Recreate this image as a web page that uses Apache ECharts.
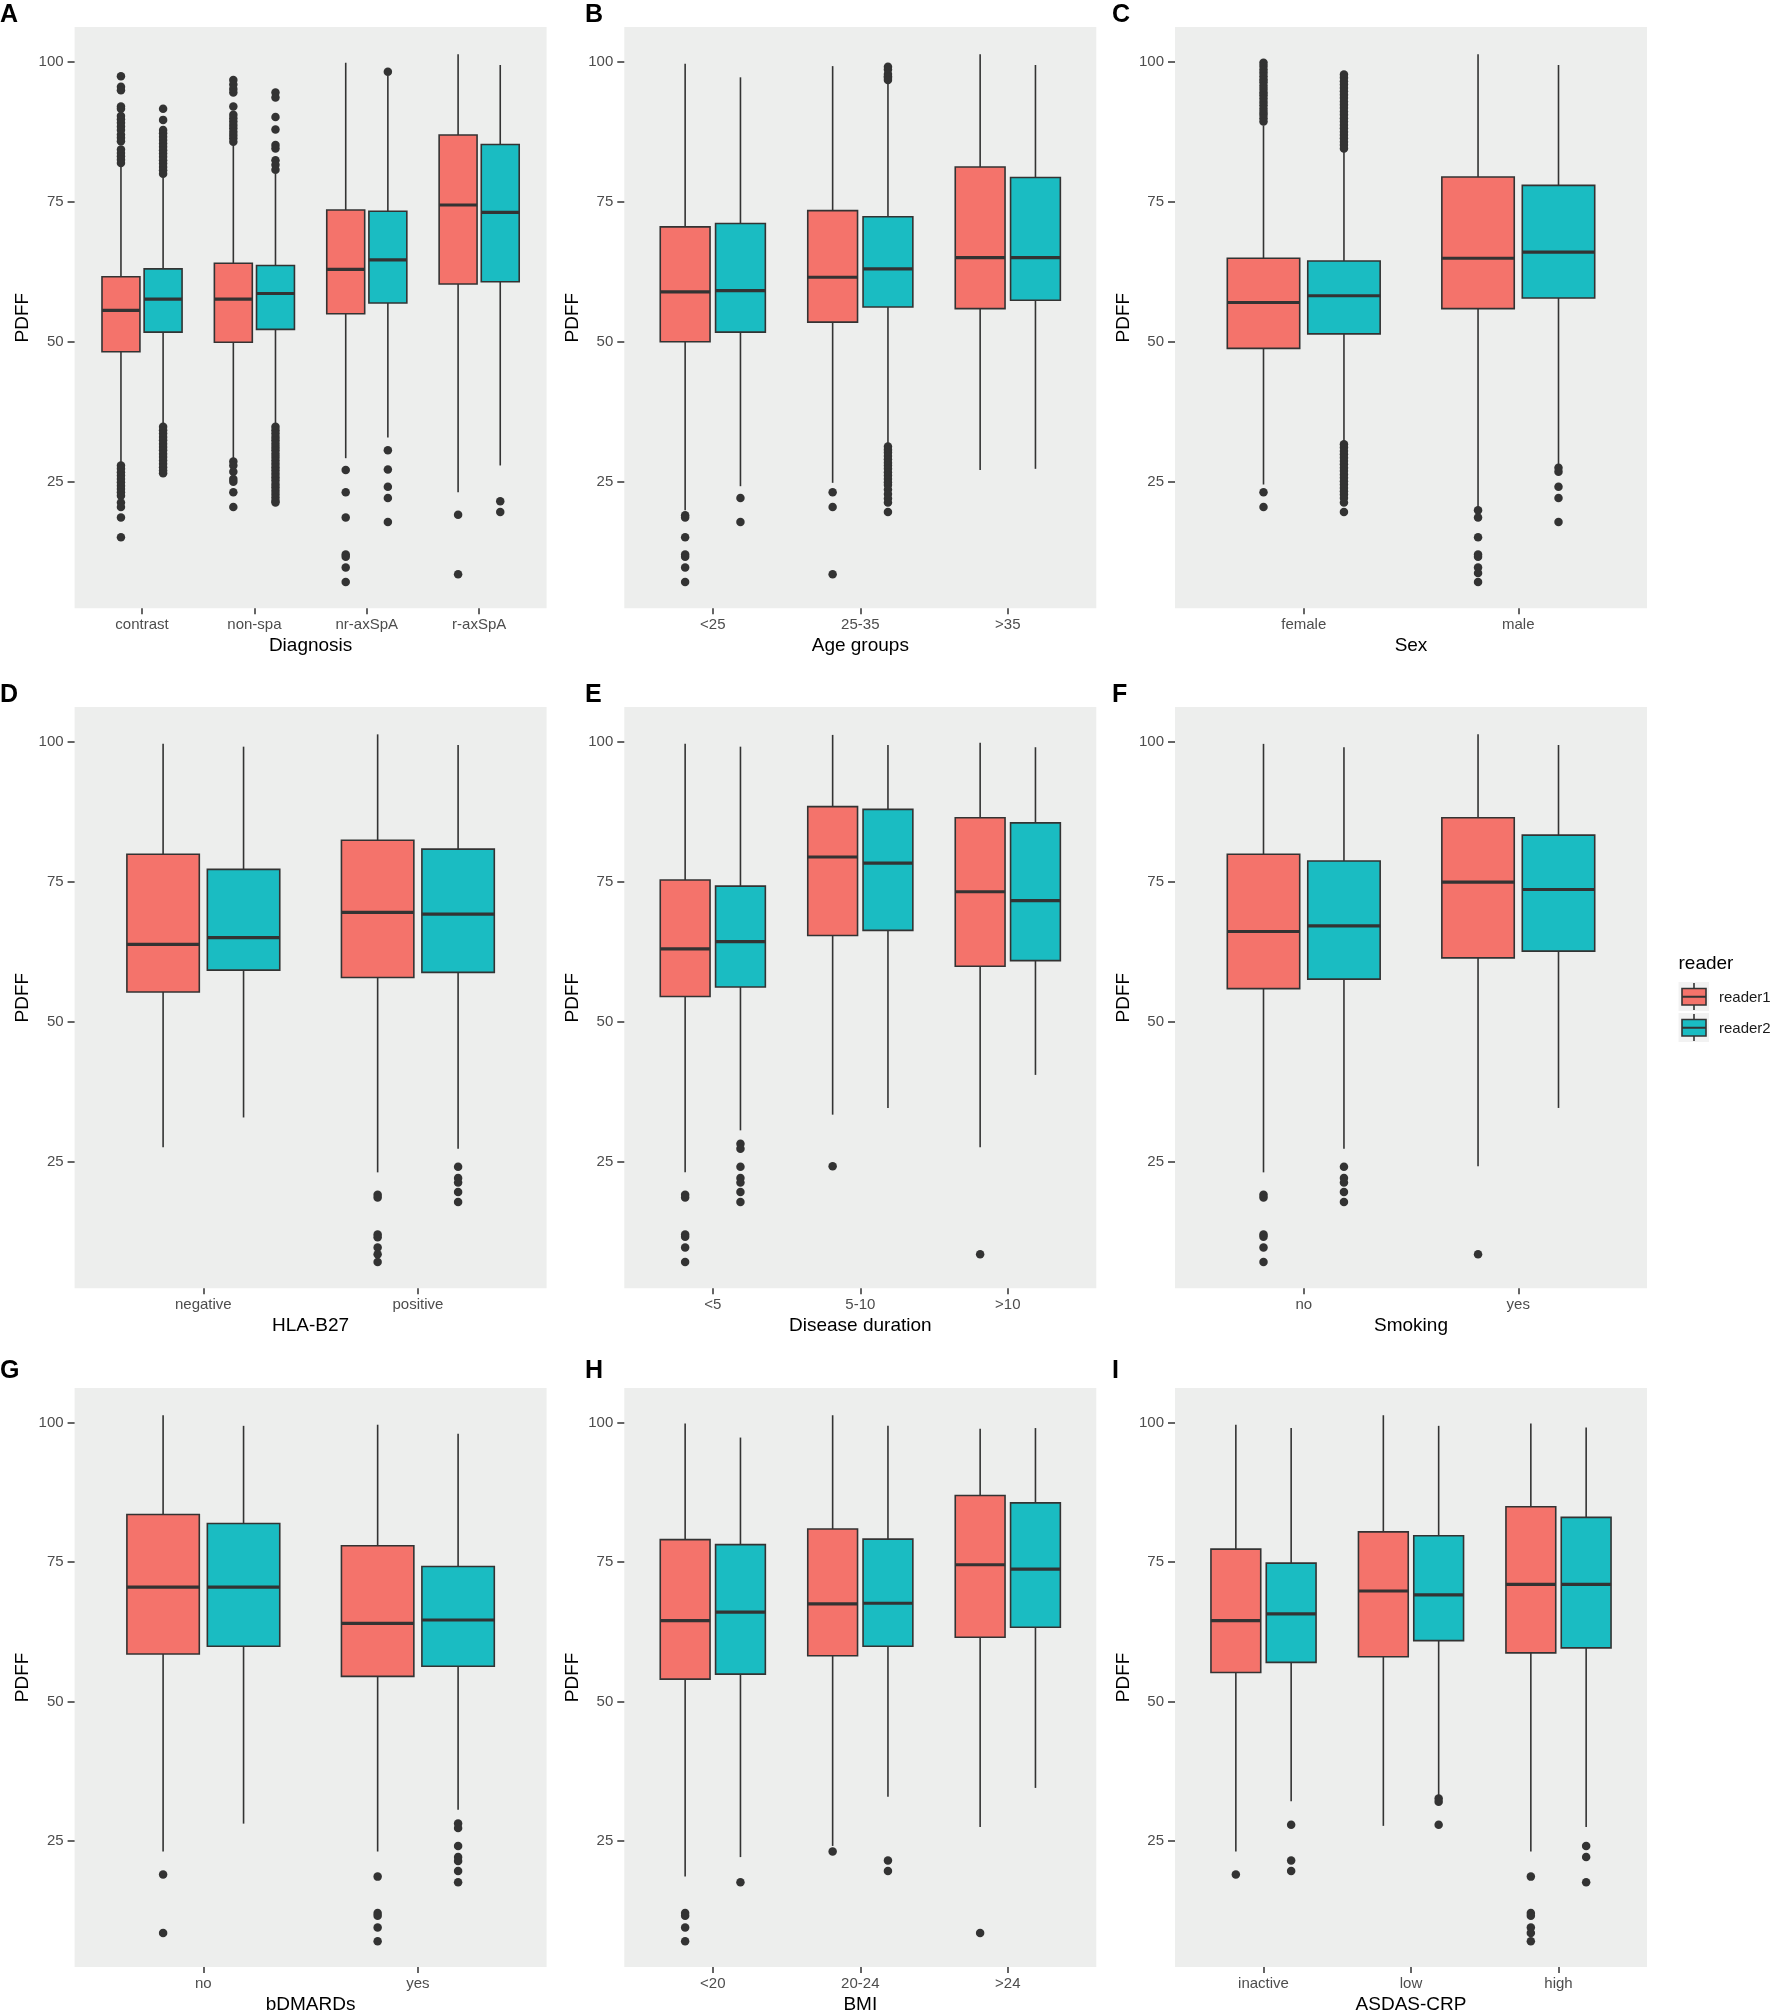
<!DOCTYPE html>
<html><head><meta charset="utf-8">
<script src="https://cdn.jsdelivr.net/npm/echarts@6/dist/echarts.min.js"></script>
<style>html,body{margin:0;padding:0;background:#fff}#c{width:1772px;height:2015px}</style>
</head><body><div id="c"></div>
<script>
// ---------- DATA ----------
const readerNames = ['reader1', 'reader2'];
const yTickValues = [25, 50, 75, 100];
const panelLetters = ['A', 'B', 'C', 'D', 'E', 'F', 'G', 'H', 'I'];
const panelTitles = ['Diagnosis', 'Age groups', 'Sex', 'HLA-B27', 'Disease duration', 'Smoking', 'bDMARDs', 'BMI', 'ASDAS-CRP'];

// box stats: [lower whisker, Q1, median, Q3, upper whisker]
const diagnosisCats = ['contrast', 'non-spa', 'nr-axSpA', 'r-axSpA'];
const diagnosisR1 = [[28.2, 48.2, 55.6, 61.6, 81.2], [29.0, 49.9, 57.6, 64.0, 85.1], [29.2, 55.0, 62.9, 73.5, 99.8], [23.1, 60.3, 74.4, 86.9, 101.3]];
const diagnosisR2 = [[35.2, 51.7, 57.6, 63.0, 79.3], [34.8, 52.2, 58.6, 63.6, 80.0], [32.9, 56.9, 64.6, 73.3, 97.5], [27.9, 60.7, 73.1, 85.2, 99.4]];
const diagnosisOut1 = [
  [97.4, 95.5, 94.9, 92.0, 91.6, 90.3, 89.7, 89.1, 88.4, 87.8, 87.0, 86.4, 85.8, 84.3, 83.7, 83.1, 82.5, 81.9, 27.9, 27.3, 26.7, 26.1, 25.5, 24.9, 24.3, 23.7, 23.1, 22.5, 21.3, 20.5, 18.6, 15.1],
  [96.7, 95.9, 95.1, 94.5, 92.0, 90.5, 89.9, 89.3, 88.7, 88.1, 87.5, 86.9, 86.3, 85.7, 28.6, 27.9, 26.8, 25.5, 25.0, 23.1, 20.5],
  [27.1, 23.1, 18.6, 12.0, 11.6, 9.7, 7.1],
  [19.1, 8.5]];
const diagnosisOut2 = [
  [91.6, 89.6, 87.8, 87.2, 86.6, 86.0, 85.4, 84.8, 84.2, 83.6, 83.0, 82.4, 81.8, 81.2, 80.6, 80.0, 34.8, 34.2, 33.6, 33.0, 32.4, 31.8, 31.2, 30.6, 30.0, 29.4, 28.8, 28.2, 27.6, 27.0, 26.5],
  [94.5, 93.6, 90.1, 87.9, 85.1, 84.5, 82.4, 81.6, 80.7, 34.8, 34.2, 33.6, 33.0, 32.4, 31.8, 31.2, 30.6, 30.0, 29.4, 28.8, 28.2, 27.6, 27.0, 26.4, 25.8, 25.2, 24.6, 24.0, 23.4, 22.8, 22.2, 21.6, 21.3],
  [98.2, 30.6, 27.2, 24.1, 22.1, 17.8],
  [21.5, 19.6]];

const ageCats = ['<25', '25-35', '>35'];
const ageR1 = [[19.9, 50.0, 58.9, 70.5, 99.6], [24.8, 53.5, 61.5, 73.4, 99.2], [27.1, 55.9, 65.0, 81.2, 101.3]];
const ageR2 = [[24.2, 51.7, 59.1, 71.1, 97.2], [31.7, 56.2, 63.0, 72.3, 96.3], [27.3, 57.4, 65.0, 79.3, 99.4]];
const ageOut1 = [[19.0, 18.6, 15.1, 12.0, 11.6, 9.7, 7.1], [23.1, 20.5, 8.5], []];
const ageOut2 = [[22.1, 17.8],
  [99.1, 98.6, 97.8, 97.4, 97.1, 96.7, 31.3, 30.7, 30.2, 29.6, 29.0, 28.4, 27.9, 27.3, 26.7, 26.1, 25.5, 24.9, 24.4, 23.6, 22.8, 22.0, 21.3, 19.6], []];

const sexCats = ['female', 'male'];
const sexR1 = [[24.5, 48.8, 57.0, 64.9, 88.6], [20.5, 55.9, 64.9, 79.4, 101.3]];
const sexR2 = [[32.0, 51.4, 58.2, 64.4, 83.9], [27.9, 57.8, 66.0, 77.9, 99.4]];
const sexOut1 = [[99.8, 99.2, 98.6, 98.0, 97.4, 96.8, 96.3, 95.7, 95.1, 94.5, 94.0, 93.4, 92.8, 92.2, 91.6, 91.0, 90.5, 89.9, 89.3, 23.1, 20.5],
  [19.9, 18.6, 15.1, 12.0, 11.6, 9.7, 8.7, 7.1]];
const sexOut2 = [[97.7, 97.1, 96.5, 95.9, 95.3, 94.7, 94.1, 93.5, 92.9, 92.3, 91.7, 91.1, 90.5, 89.9, 89.3, 88.7, 88.1, 87.5, 86.9, 86.3, 85.7, 85.1, 84.5, 31.7, 31.1, 30.5, 29.9, 29.3, 28.7, 28.1, 27.5, 26.9, 26.3, 25.7, 25.1, 24.5, 23.9, 23.3, 22.7, 22.1, 21.3, 19.6],
  [27.5, 26.8, 24.1, 22.1, 17.8]];

const hlaCats = ['negative', 'positive'];
const hlaR1 = [[27.6, 55.3, 63.8, 79.9, 99.6], [23.1, 57.9, 69.5, 82.4, 101.3]];
const hlaR2 = [[32.9, 59.2, 65.0, 77.2, 99.1], [27.3, 58.8, 69.2, 80.8, 99.4]];
const hlaOut1 = [[], [19.1, 18.6, 12.0, 11.5, 9.7, 8.5, 7.1]];
const hlaOut2 = [[], [24.1, 22.1, 21.3, 19.6, 17.8]];

const durationCats = ['<5', '5-10', '>10'];
const durationR1 = [[23.1, 54.5, 63.0, 75.3, 99.6], [33.4, 65.4, 79.4, 88.4, 101.2], [27.6, 59.9, 73.2, 86.4, 99.8]];
const durationR2 = [[30.6, 56.2, 64.3, 74.2, 99.1], [34.6, 66.3, 78.3, 87.9, 99.4], [40.5, 60.9, 71.6, 85.5, 99.0]];
const durationOut1 = [[19.1, 18.6, 12.0, 11.6, 9.7, 7.1], [24.2], [8.5]];
const durationOut2 = [[28.2, 27.3, 24.1, 22.1, 21.3, 19.6, 17.8], [], []];

const smokingCats = ['no', 'yes'];
const smokingR1 = [[23.1, 55.9, 66.1, 79.9, 99.6], [24.2, 61.4, 74.9, 86.4, 101.3]];
const smokingR2 = [[27.3, 57.6, 67.1, 78.7, 99.0], [34.6, 62.6, 73.6, 83.3, 99.4]];
const smokingOut1 = [[19.1, 18.6, 12.0, 11.6, 9.7, 7.1], [8.5]];
const smokingOut2 = [[24.1, 22.1, 21.3, 19.6, 17.8], []];

const bdmardCats = ['no', 'yes'];
const bdmardR1 = [[23.1, 58.5, 70.5, 83.5, 101.3], [23.1, 54.5, 64.0, 77.9, 99.6]];
const bdmardR2 = [[28.1, 59.9, 70.5, 81.9, 99.4], [30.6, 56.3, 64.6, 74.2, 98.0]];
const bdmardOut1 = [[19.0, 8.5], [18.6, 12.1, 11.6, 9.5, 7.0]];
const bdmardOut2 = [[], [28.1, 27.3, 24.1, 22.1, 21.4, 19.6, 17.6]];

const bmiCats = ['<20', '20-24', '>24'];
const bmiR1 = [[18.6, 54.0, 64.5, 79.0, 99.8], [24.1, 58.2, 67.5, 80.9, 101.3], [27.5, 61.5, 74.5, 86.9, 98.9]];
const bmiR2 = [[22.1, 54.9, 66.0, 78.1, 97.3], [32.9, 59.9, 67.6, 79.1, 99.4], [34.5, 63.3, 73.7, 85.6, 99.0]];
const bmiOut1 = [[12.1, 11.6, 9.5, 7.0], [23.1], [8.5]];
const bmiOut2 = [[17.6], [21.5, 19.6], []];

const asdasCats = ['inactive', 'low', 'high'];
const asdasR1 = [[23.1, 55.2, 64.5, 77.3, 99.6], [27.7, 58.0, 69.8, 80.4, 101.3], [23.1, 58.7, 71.0, 84.9, 99.8]];
const asdasR2 = [[32.1, 57.0, 65.7, 74.8, 99.0], [33.1, 60.9, 69.1, 79.7, 99.4], [27.5, 59.6, 71.0, 83.0, 99.1]];
const asdasOut1 = [[19.0], [], [18.6, 12.1, 11.6, 9.5, 8.5, 7.0]];
const asdasOut2 = [[27.9, 21.5, 19.6], [32.6, 32.0, 27.9], [24.1, 22.1, 17.6]];

// ---------- BUILD ----------
const panels = [
  [diagnosisCats, diagnosisR1, diagnosisR2, diagnosisOut1, diagnosisOut2],
  [ageCats, ageR1, ageR2, ageOut1, ageOut2],
  [sexCats, sexR1, sexR2, sexOut1, sexOut2],
  [hlaCats, hlaR1, hlaR2, hlaOut1, hlaOut2],
  [durationCats, durationR1, durationR2, durationOut1, durationOut2],
  [smokingCats, smokingR1, smokingR2, smokingOut1, smokingOut2],
  [bdmardCats, bdmardR1, bdmardR2, bdmardOut1, bdmardOut2],
  [bmiCats, bmiR1, bmiR2, bmiOut1, bmiOut2],
  [asdasCats, asdasR1, asdasR2, asdasOut1, asdasOut2]
];

const FONT = '"Liberation Sans", Arial, Helvetica, sans-serif';
const colors = ['#F4736B', '#1ABCC2'];
const LINE = '#333333';
const colLeft = [74.6, 624.3, 1175];
const rowTop = [26.9, 706.9, 1387.9];
const PW = 472, PH = 581.4;
const dodge = 0.1875, halfBox = 0.16875;
const letterX = [0, 585, 1112];
const letterY = [15, 695, 1371];

function boxRender(color) {
  return function (params, api) {
    const x = api.value(0);
    const pL = api.coord([x - halfBox, api.value(3)]);
    const pR = api.coord([x + halfBox, api.value(3)]);
    const cx = api.coord([x, api.value(3)])[0];
    const yLo = api.coord([x, api.value(1)])[1];
    const yQ1 = api.coord([x, api.value(2)])[1];
    const yMed = pL[1];
    const yQ3 = api.coord([x, api.value(4)])[1];
    const yHi = api.coord([x, api.value(5)])[1];
    return {
      type: 'group', children: [
        { type: 'line', shape: { x1: cx, y1: yQ3, x2: cx, y2: yHi }, style: { stroke: LINE, lineWidth: 1.6 } },
        { type: 'line', shape: { x1: cx, y1: yQ1, x2: cx, y2: yLo }, style: { stroke: LINE, lineWidth: 1.6 } },
        { type: 'rect', shape: { x: pL[0], y: yQ3, width: pR[0] - pL[0], height: yQ1 - yQ3 }, style: { fill: color, stroke: LINE, lineWidth: 1.6 } },
        { type: 'line', shape: { x1: pL[0], y1: yMed, x2: pR[0], y2: yMed }, style: { stroke: LINE, lineWidth: 3.2 } }
      ]
    };
  };
}

const grids = [], xAxes = [], yAxes = [], series = [], graphics = [];
panels.forEach((p, g) => {
  const cats = p[0];
  const n = cats.length;
  const col = g % 3, row = Math.floor(g / 3);
  grids.push({ left: colLeft[col], top: rowTop[row], width: PW, height: PH, show: true, backgroundColor: '#EDEEED', borderWidth: 0, containLabel: false });
  const catTicks = cats.map((_, i) => i + 1);
  xAxes.push({
    type: 'value', gridIndex: g, min: 0.4, max: n + 0.6,
    axisLine: { show: false }, splitLine: { show: false },
    axisTick: { show: true, customValues: catTicks, length: 6, lineStyle: { color: LINE, width: 1.5 } },
    axisLabel: { customValues: catTicks, formatter: v => cats[Math.round(v) - 1] || '', color: '#4D4D4D', fontSize: 15, margin: 9, fontFamily: FONT },
    name: panelTitles[g], nameLocation: 'middle', nameGap: 28,
    nameTextStyle: { fontSize: 19, color: '#000', fontFamily: FONT }
  });
  yAxes.push({
    type: 'value', gridIndex: g, min: 2.4, max: 106.2,
    axisLine: { show: false }, splitLine: { show: false },
    axisTick: { show: true, customValues: yTickValues, length: 7, lineStyle: { color: LINE, width: 1.5 } },
    axisLabel: { customValues: yTickValues, color: '#4D4D4D', fontSize: 15, margin: 11, fontFamily: FONT },
    name: 'PDFF', nameLocation: 'middle', nameGap: 42,
    nameTextStyle: { fontSize: 19, color: '#000', fontFamily: FONT }
  });
  [0, 1].forEach(r => {
    const stats = p[1 + r];
    const outs = p[3 + r];
    const off = r === 0 ? -dodge : dodge;
    series.push({
      type: 'custom', name: readerNames[r], xAxisIndex: g, yAxisIndex: g,
      renderItem: boxRender(colors[r]),
      encode: { x: 0, y: [1, 2, 3, 4, 5] },
      data: stats.map((s, i) => [i + 1 + off].concat(s)),
      silent: true, z: 2
    });
    const pts = [];
    outs.forEach((arr, i) => arr.forEach(v => pts.push([i + 1 + off, v])));
    series.push({
      type: 'scatter', name: readerNames[r] + ' outliers', xAxisIndex: g, yAxisIndex: g,
      data: pts, symbolSize: 8.5, itemStyle: { color: LINE, opacity: 1 }, silent: true, z: 3
    });
  });
  graphics.push({
    type: 'text', x: letterX[col], y: letterY[row],
    style: { text: panelLetters[g], font: 'bold 25px ' + FONT, fill: '#000', verticalAlign: 'middle', align: 'left' }
  });
});

// legend (ggplot style boxplot keys)
const legX = 1678.5, legKeyTop = [982, 1013];
graphics.push({ type: 'text', x: legX, y: 964, style: { text: 'reader', font: '19px ' + FONT, fill: '#000', verticalAlign: 'middle' } });
readerNames.forEach((nm, r) => {
  const top = legKeyTop[r];
  graphics.push({ type: 'rect', shape: { x: legX, y: top, width: 30.5, height: 29 }, style: { fill: '#F2F2F2' } });
  graphics.push({ type: 'line', shape: { x1: legX + 15.5, y1: top + 1, x2: legX + 15.5, y2: top + 28 }, style: { stroke: LINE, lineWidth: 1.6 } });
  graphics.push({ type: 'rect', shape: { x: legX + 3.5, y: top + 6.5, width: 24, height: 16.5 }, style: { fill: colors[r], stroke: LINE, lineWidth: 1.6 } });
  graphics.push({ type: 'line', shape: { x1: legX + 3.5, y1: top + 14.75, x2: legX + 27.5, y2: top + 14.75 }, style: { stroke: LINE, lineWidth: 2 } });
  graphics.push({ type: 'text', x: 1719, y: top + 15.5, style: { text: nm, font: '15px ' + FONT, fill: '#1A1A1A', verticalAlign: 'middle' } });
});

const chart = echarts.init(document.getElementById('c'), null, { renderer: 'canvas' });
chart.setOption({
  animation: false,
  backgroundColor: '#FFFFFF',
  textStyle: { fontFamily: FONT },
  grid: grids, xAxis: xAxes, yAxis: yAxes, series: series, graphic: graphics
});
</script></body></html>
